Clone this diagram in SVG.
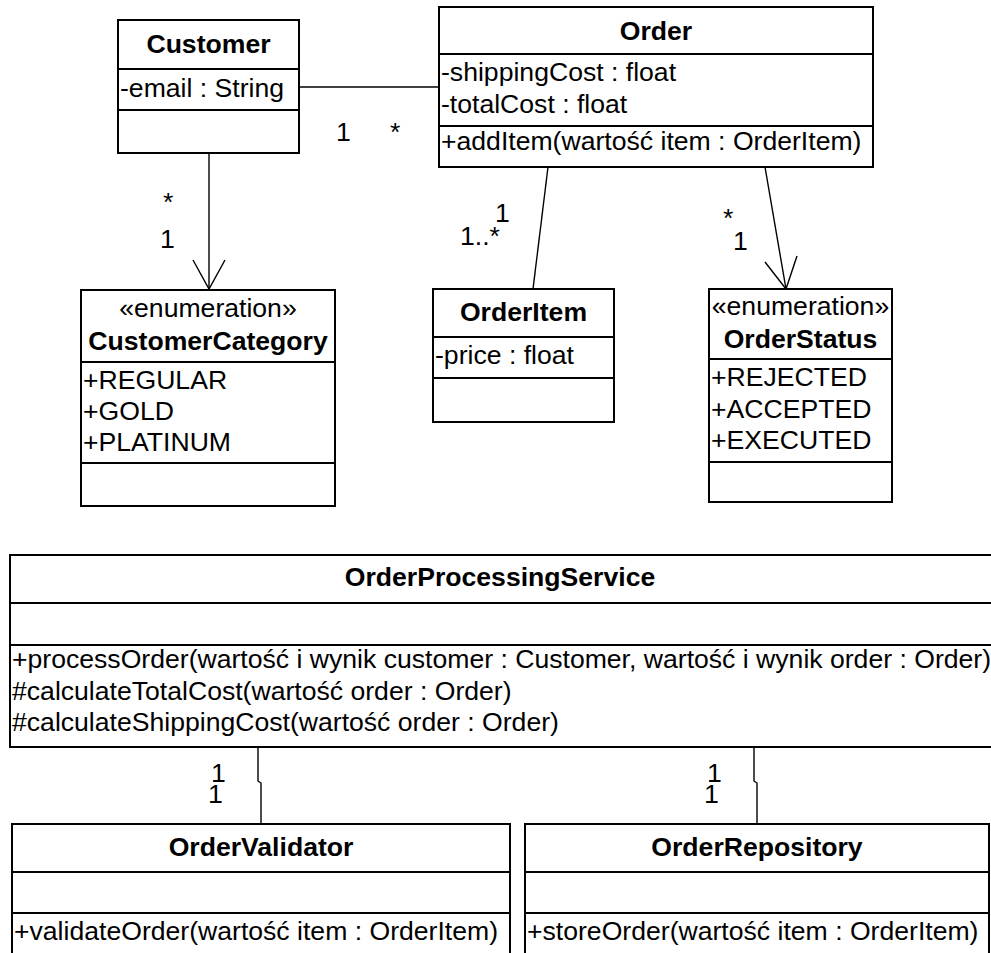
<svg xmlns="http://www.w3.org/2000/svg" width="991" height="953" viewBox="0 0 991 953">
<style>
.box{fill:#fff;stroke:#000;stroke-width:2}
.div{stroke:#000;stroke-width:2}
.con{fill:none;stroke:#000;stroke-width:1.4}
text{font-family:"Liberation Sans",Arial,sans-serif;font-size:26.6px;fill:#000}
.t{font-weight:bold;text-anchor:middle}
.s{text-anchor:middle}
</style>
<rect width="991" height="953" fill="#fff"/>
<g id="connectors">
<line class="con" x1="299" y1="87" x2="439" y2="87"/>
<line class="con" x1="209" y1="153" x2="209" y2="289"/>
<polyline class="con" points="193,260 209,289 225,260"/>
<line class="con" x1="548" y1="167" x2="533" y2="289"/>
<line class="con" x1="765" y1="167" x2="786" y2="289"/>
<polyline class="con" points="765,262 786,289 797,256"/>
<polyline class="con" points="258,747 258,781 261,783 261,824"/>
<polyline class="con" points="754,747 754,781 757,783 757,824"/>
<text x="336" y="141">1</text>
<text x="390" y="141">*</text>
<text x="163" y="211">*</text>
<text x="160" y="248">1</text>
<text x="495" y="222">1</text>
<text x="460" y="245">1..*</text>
<text x="723" y="227">*</text>
<text x="733" y="250">1</text>
<text x="211" y="782">1</text>
<text x="208" y="803">1</text>
<text x="707" y="782">1</text>
<text x="704" y="803">1</text>
</g>
<g id="Customer">
<rect class="box" x="118" y="20" width="181" height="133"/>
<line class="div" x1="118" y1="69" x2="299" y2="69"/>
<line class="div" x1="118" y1="110" x2="299" y2="110"/>
<text class="t" x="208.5" y="53">Customer</text>
<text x="120" y="97">-email : String</text>
</g>
<g id="Order">
<rect class="box" x="439" y="7" width="434" height="160"/>
<line class="div" x1="439" y1="54" x2="873" y2="54"/>
<line class="div" x1="439" y1="126" x2="873" y2="126"/>
<text class="t" x="656" y="40">Order</text>
<text x="441" y="81">-shippingCost : float</text>
<text x="441" y="113">-totalCost : float</text>
<text x="441" y="150">+addItem(wartość item : OrderItem)</text>
</g>
<g id="CustomerCategory">
<rect class="box" x="81" y="290" width="254" height="216"/>
<line class="div" x1="81" y1="362" x2="335" y2="362"/>
<line class="div" x1="81" y1="463" x2="335" y2="463"/>
<text class="s" x="208" y="317">«enumeration»</text>
<text class="t" x="208" y="350">CustomerCategory</text>
<text x="83" y="389">+REGULAR</text>
<text x="83" y="420">+GOLD</text>
<text x="83" y="451">+PLATINUM</text>
</g>
<g id="OrderItem">
<rect class="box" x="433" y="289" width="181" height="133"/>
<line class="div" x1="433" y1="337" x2="614" y2="337"/>
<line class="div" x1="433" y1="378" x2="614" y2="378"/>
<text class="t" x="523.5" y="321">OrderItem</text>
<text x="435" y="364">-price : float</text>
</g>
<g id="OrderStatus">
<rect class="box" x="709" y="289" width="183" height="213"/>
<line class="div" x1="709" y1="359" x2="892" y2="359"/>
<line class="div" x1="709" y1="462" x2="892" y2="462"/>
<text class="s" x="800.5" y="315">«enumeration»</text>
<text class="t" x="800.5" y="348">OrderStatus</text>
<text x="711" y="386">+REJECTED</text>
<text x="711" y="418">+ACCEPTED</text>
<text x="711" y="449">+EXECUTED</text>
</g>
<g id="OrderProcessingService">
<rect class="box" x="10" y="555" width="982" height="192"/>
<line class="div" x1="10" y1="603" x2="992" y2="603"/>
<line class="div" x1="10" y1="645" x2="992" y2="645"/>
<text class="t" x="500" y="586">OrderProcessingService</text>
<text x="12" y="668">+processOrder(wartość i wynik customer : Customer, wartość i wynik order : Order)</text>
<text x="12" y="700">#calculateTotalCost(wartość order : Order)</text>
<text x="12" y="731">#calculateShippingCost(wartość order : Order)</text>
</g>
<g id="OrderValidator">
<rect class="box" x="12" y="824" width="498" height="140"/>
<line class="div" x1="12" y1="872" x2="510" y2="872"/>
<line class="div" x1="12" y1="913" x2="510" y2="913"/>
<text class="t" x="261" y="856">OrderValidator</text>
<text x="14" y="940">+validateOrder(wartość item : OrderItem)</text>
</g>
<g id="OrderRepository">
<rect class="box" x="525" y="824" width="464" height="140"/>
<line class="div" x1="525" y1="872" x2="989" y2="872"/>
<line class="div" x1="525" y1="913" x2="989" y2="913"/>
<text class="t" x="757" y="856">OrderRepository</text>
<text x="527" y="940">+storeOrder(wartość item : OrderItem)</text>
</g>
</svg>
